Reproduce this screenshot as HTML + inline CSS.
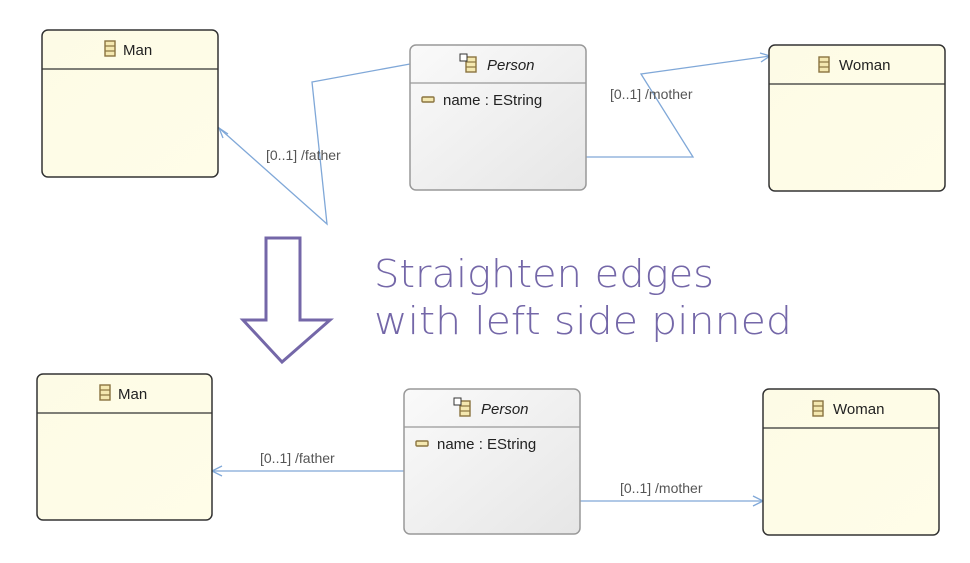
<!DOCTYPE html>
<html><head><meta charset="utf-8"><style>
html,body{margin:0;padding:0;background:#fff;}
svg{display:block;}
text{font-family:"Liberation Sans","DejaVu Sans",sans-serif;}
</style></head><body>
<svg width="970" height="563" viewBox="0 0 970 563" xmlns="http://www.w3.org/2000/svg">
<defs>
<linearGradient id="y" x1="0" y1="0" x2="1" y2="1"><stop offset="0" stop-color="#fdfbe6"/><stop offset="1" stop-color="#fffde8"/></linearGradient>
<linearGradient id="g" x1="0" y1="0" x2="1" y2="1"><stop offset="0" stop-color="#fafafa"/><stop offset="1" stop-color="#e6e6e6"/></linearGradient>
<g id="cls"><rect x="0" y="0" width="10" height="15" fill="#f4e8b0" stroke="#8a7440" stroke-width="1.4"/><line x1="0" y1="5" x2="10" y2="5" stroke="#8a7440" stroke-width="1.2"/><line x1="0" y1="10" x2="10" y2="10" stroke="#8a7440" stroke-width="1.2"/></g>
<g id="attr"><rect x="0" y="0" width="12" height="5" rx="1" fill="#f4e8b0" stroke="#8a7440" stroke-width="1.4"/></g>
</defs>
<g stroke="#80a8d8" stroke-width="1.3" fill="none">
<polyline points="410,64 312,82 327,224 219,128"/>
<polyline points="228,134 219,128 223,138"/>
<polyline points="586,157 693,157 641,74 770,56"/>
<polyline points="760,53 770,56 761,62"/>
<line x1="404" y1="471" x2="212" y2="471"/>
<polyline points="222,466 212,471 222,476"/>
<line x1="580" y1="501" x2="763" y2="501"/>
<polyline points="753,496 763,501 753,506"/>
</g>
<g font-size="14" fill="#555">
<text x="266" y="160">[0..1] /father</text>
<text x="610" y="99">[0..1] /mother</text>
<text x="260" y="463">[0..1] /father</text>
<text x="620" y="493">[0..1] /mother</text>
</g>
<!-- top row -->
<rect x="42" y="30" width="176" height="147" rx="6" fill="url(#y)" stroke="#333" stroke-width="1.5"/>
<line x1="42" y1="69" x2="218" y2="69" stroke="#333" stroke-width="1.3"/>
<use href="#cls" x="105" y="41"/><text x="123" y="55" font-size="15" fill="#222">Man</text>

<rect x="410" y="45" width="176" height="145" rx="6" fill="url(#g)" stroke="#999" stroke-width="1.5"/>
<line x1="410" y1="83" x2="586" y2="83" stroke="#999" stroke-width="1.3"/>
<use href="#cls" x="466" y="57"/><rect x="460" y="54" width="7" height="7" fill="#fff" stroke="#333" stroke-width="1"/>
<text x="487" y="70" font-size="15" font-style="italic" fill="#222">Person</text>
<use href="#attr" x="422" y="97"/><text x="443" y="105" font-size="15" fill="#222">name : EString</text>

<rect x="769" y="45" width="176" height="146" rx="6" fill="url(#y)" stroke="#333" stroke-width="1.5"/>
<line x1="769" y1="84" x2="945" y2="84" stroke="#333" stroke-width="1.3"/>
<use href="#cls" x="819" y="57"/><text x="839" y="70" font-size="15" fill="#222">Woman</text>

<!-- arrow -->
<polygon points="266,238 300,238 300,320 330,320 282,362 243,320 266,320" fill="none" stroke="#7467a8" stroke-width="3"/>
<g font-size="38" fill="#7467a8">
<text x="374" y="287" textLength="340" lengthAdjust="spacingAndGlyphs" style="font-family:'DejaVu Sans',sans-serif;font-weight:200">Straighten edges</text>
<text x="374" y="334" textLength="418" lengthAdjust="spacingAndGlyphs" style="font-family:'DejaVu Sans',sans-serif;font-weight:200">with left side pinned</text>
</g>

<!-- bottom row -->
<rect x="37" y="374" width="175" height="146" rx="6" fill="url(#y)" stroke="#333" stroke-width="1.5"/>
<line x1="37" y1="413" x2="212" y2="413" stroke="#333" stroke-width="1.3"/>
<use href="#cls" x="100" y="385"/><text x="118" y="399" font-size="15" fill="#222">Man</text>

<rect x="404" y="389" width="176" height="145" rx="6" fill="url(#g)" stroke="#999" stroke-width="1.5"/>
<line x1="404" y1="427" x2="580" y2="427" stroke="#999" stroke-width="1.3"/>
<use href="#cls" x="460" y="401"/><rect x="454" y="398" width="7" height="7" fill="#fff" stroke="#333" stroke-width="1"/>
<text x="481" y="414" font-size="15" font-style="italic" fill="#222">Person</text>
<use href="#attr" x="416" y="441"/><text x="437" y="449" font-size="15" fill="#222">name : EString</text>

<rect x="763" y="389" width="176" height="146" rx="6" fill="url(#y)" stroke="#333" stroke-width="1.5"/>
<line x1="763" y1="428" x2="939" y2="428" stroke="#333" stroke-width="1.3"/>
<use href="#cls" x="813" y="401"/><text x="833" y="414" font-size="15" fill="#222">Woman</text>
</svg>
</body></html>
